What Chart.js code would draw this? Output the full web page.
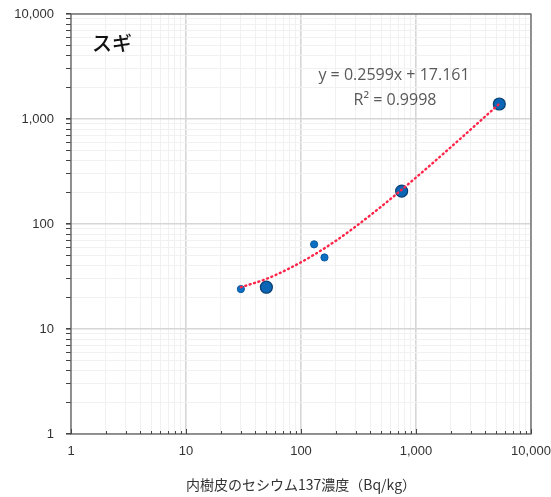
<!DOCTYPE html>
<html>
<head>
<meta charset="utf-8">
<script src="https://cdn.jsdelivr.net/npm/chart.js@4/dist/chart.umd.min.js"></script>
<style>
  html,body{margin:0;padding:0;background:#fff;}
  #wrap{width:551px;height:497px;}
</style>
</head>
<body>
<div id="wrap"><canvas id="c" width="551" height="497"></canvas></div>
<script>
// decade ticks on both axes
const majorTicks = [1, 10, 100, 1000, 10000];

// measured points
const smallX = [30, 130, 160];
const smallY = [24, 64, 48];
const bigX = [50, 750, 5300];
const bigY = [25, 206, 1390];

// trend line
const trendX = [30, 50, 80, 130, 200, 300, 500, 750, 1200, 2000, 3500, 5300];
const trendY = [25, 30, 38, 51, 69, 95, 147, 212, 329, 537, 927, 1395];

const label = 'スギ';
const eqText = 'y = 0.2599x + 17.161';
const r2Text = 'R² = 0.9998';
const xTitle = '内樹皮のセシウム137濃度（Bq/kg）';

const toXY = (xs, ys) => xs.map((x, i) => ({x, y: ys[i]}));

// every 1..9 multiple of each decade, for gridlines
function allTicks(){
  const out = [];
  majorTicks.forEach((m, i) => {
    if(i === majorTicks.length - 1){ out.push({value: m}); return; }
    for(let k = 1; k < 10; k++) out.push({value: m * k});
  });
  return out;
}
const isMajor = v => majorTicks.includes(v);
const gridColor = ctx => isMajor(ctx.tick && ctx.tick.value) ? '#d6d6d6' : '#f1f1f1';
const gridWidth = ctx => isMajor(ctx.tick && ctx.tick.value) ? 1.6 : 1;

// frame, inward x ticks and text notes
const extras = {
  id: 'extras',
  afterDatasetsDraw(chart){
    const {ctx, chartArea: a, scales} = chart;
    ctx.save();
    ctx.strokeStyle = '#5a5a5a';
    ctx.lineWidth = 1.2;
    ctx.strokeRect(a.left, a.top, a.right - a.left, a.bottom - a.top);
    // x axis small ticks pointing up
    ctx.strokeStyle = '#444';
    ctx.lineWidth = 1;
    allTicks().forEach(t => {
      const px = Math.round(scales.x.getPixelForValue(t.value)) + 0.5;
      const len = isMajor(t.value) ? 5 : 3;
      ctx.beginPath();
      ctx.moveTo(px, a.bottom);
      ctx.lineTo(px, a.bottom - len);
      ctx.stroke();
    });
    // series name
    ctx.fillStyle = '#111';
    ctx.font = '500 20px "Noto Sans CJK JP"';
    ctx.textAlign = 'left';
    ctx.textBaseline = 'middle';
    ctx.fillText(label, 92, 43);
    // equation
    ctx.fillStyle = '#595959';
    ctx.font = '16px "Open Sans"';
    ctx.textAlign = 'center';
    ctx.fillText(eqText, 394, 75);
    ctx.fillText(r2Text, 395, 100);
    ctx.restore();
  }
};

const tickFont = {family: '"Liberation Sans"', size: 13};
const fmt = v => isMajor(v) ? Number(v).toLocaleString('en-US') : '';

new Chart(document.getElementById('c'), {
  type: 'scatter',
  data: {
    datasets: [
      {
        label: 'trend',
        data: toXY(trendX, trendY),
        showLine: true,
        pointRadius: 0,
        borderColor: '#ff2448',
        borderWidth: 2.4,
        borderDash: [1, 3.6],
        borderCapStyle: 'round',
        cubicInterpolationMode: 'monotone'
      },
      {
        label: 'small',
        data: toXY(smallX, smallY),
        pointRadius: 3.6,
        pointBackgroundColor: '#0b6fc2',
        pointBorderColor: '#0a5aa0',
        pointBorderWidth: 1
      },
      {
        label: 'big',
        data: toXY(bigX, bigY),
        pointRadius: 6,
        pointBackgroundColor: '#0b66b5',
        pointBorderColor: '#0a3f73',
        pointBorderWidth: 1.2
      }
    ]
  },
  options: {
    responsive: false,
    animation: false,
    layout: {padding: {top: 14, right: 20, left: 0, bottom: 0}},
    plugins: {legend: {display: false}, tooltip: {enabled: false}},
    scales: {
      x: {
        type: 'logarithmic',
        min: 1, max: 10000,
        afterBuildTicks: s => { s.ticks = allTicks(); },
        afterFit: s => { s.height = 63; s.paddingLeft = 0; s.paddingRight = 0; },
        grid: {color: gridColor, lineWidth: gridWidth, drawTicks: false},
        border: {display: false},
        ticks: {autoSkip: false, maxRotation: 0, padding: 10, color: '#333', font: tickFont, callback: fmt},
        title: {display: true, text: xTitle, color: '#333', padding: {top: 16},
          font: {family: '"Noto Sans CJK JP"', size: 14}}
      },
      y: {
        type: 'logarithmic',
        min: 1, max: 10000,
        afterBuildTicks: s => { s.ticks = allTicks(); },
        afterFit: s => { s.width = 71; s.paddingTop = 0; s.paddingBottom = 0; },
        grid: {color: gridColor, lineWidth: gridWidth, tickLength: 5, tickColor: '#444'},
        border: {display: false},
        ticks: {autoSkip: false, padding: 12, color: '#333', font: tickFont, callback: fmt}
      }
    }
  },
  plugins: [extras]
});
</script>
</body>
</html>
